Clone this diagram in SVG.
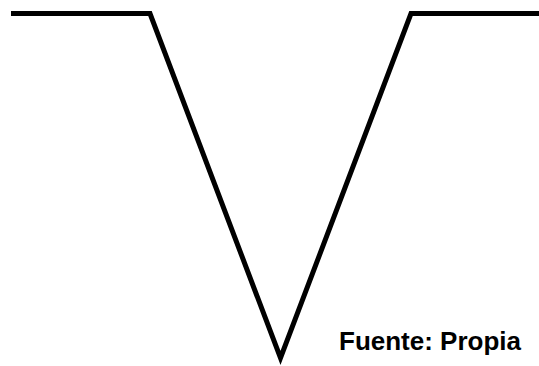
<svg xmlns="http://www.w3.org/2000/svg" width="539" height="366" viewBox="0 0 539 366">
<style>
.profile{fill:none;stroke:#000;stroke-width:5;stroke-linejoin:miter;stroke-miterlimit:10}
.caption{font-family:"Liberation Sans",Arial,sans-serif;font-weight:bold;font-size:26px;fill:#000}
</style>
<rect width="539" height="366" fill="#fff"/>
<g id="profile">
<polyline class="profile" points="11,13.5 150,13.5 280.5,358 411,13.5 539,13.5"/>
</g>
<g id="caption">
<text class="caption" x="339" y="350">Fuente: Propia</text>
</g>
</svg>
